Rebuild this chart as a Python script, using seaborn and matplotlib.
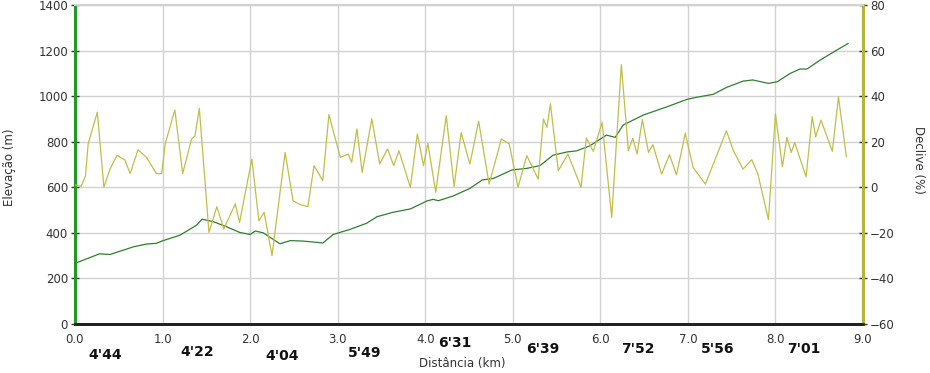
import matplotlib
matplotlib.use("Agg")
import matplotlib.pyplot as plt
import seaborn as sns
import pandas as pd

# Elevation profile (km, m)
elev_km = [0.00, 0.28, 0.40, 0.67, 0.82, 0.93, 1.00, 1.20, 1.39, 1.45, 1.58, 1.73, 1.88,
           2.00, 2.06, 2.15, 2.34, 2.46, 2.60, 2.80, 2.83, 2.88, 2.95, 3.14, 3.33, 3.45,
           3.63, 3.83, 4.02, 4.09, 4.15, 4.32, 4.51, 4.65, 4.78, 4.99, 5.16, 5.31, 5.46,
           5.62, 5.73, 5.88, 6.07, 6.17, 6.26, 6.49, 6.76, 6.99, 7.10, 7.29, 7.44, 7.63,
           7.74, 7.92, 8.02, 8.17, 8.28, 8.36, 8.51, 8.70, 8.83]
elev_m = [266, 308, 305, 339, 351, 354, 365, 390, 434, 460, 449, 427, 402,
          393, 408, 400, 352, 366, 364, 357, 355, 371, 393, 415, 442, 471,
          490, 505, 540, 547, 541, 562, 595, 632, 639, 676, 683, 695, 741,
          755, 760, 782, 829, 819, 873, 917, 953, 986, 995, 1008, 1038, 1066,
          1071, 1056, 1063, 1100, 1119, 1119, 1158, 1202, 1231]

# Gradient profile (km, %)
grad_km = [0.00, 0.07, 0.12, 0.15, 0.255, 0.33, 0.40, 0.48, 0.57, 0.63, 0.72, 0.82, 0.93,
           0.99, 1.03, 1.14, 1.23, 1.33, 1.37, 1.42, 1.53, 1.62, 1.70, 1.83, 1.88, 2.02,
           2.10, 2.16, 2.25, 2.40, 2.49, 2.57, 2.66, 2.73, 2.83, 2.90, 3.03, 3.12, 3.16,
           3.22, 3.28, 3.39, 3.48, 3.57, 3.64, 3.70, 3.83, 3.91, 3.98, 4.03, 4.12, 4.24,
           4.33, 4.41, 4.51, 4.61, 4.73, 4.87, 4.96, 5.06, 5.16, 5.29, 5.35, 5.39, 5.43,
           5.52, 5.63, 5.78, 5.84, 5.92, 6.02, 6.13, 6.24, 6.32, 6.37, 6.42, 6.48, 6.55,
           6.60, 6.70, 6.79, 6.87, 6.97, 7.06, 7.20, 7.44, 7.52, 7.63, 7.73, 7.80, 7.92,
           8.00, 8.08, 8.13, 8.18, 8.22, 8.35, 8.42, 8.46, 8.52, 8.65, 8.72, 8.81]
grad_pct = [1.0, 0.4, 5.0, 19.0, 33.0, 0.0, 8.0, 14.0, 12.0, 6.0, 16.5, 13.0, 6.0,
            6.0, 19.0, 34.0, 6.0, 21.0, 22.6, 34.6, -19.8, -8.5, -18.3, -7.3, -15.4, 12.4,
            -14.7, -11.0, -30.0, 15.3, -5.9, -7.6, -8.5, 9.5, 2.9, 31.9, 13.1, 14.6, 11.0,
            25.6, 6.5, 30.0, 10.2, 16.8, 9.5, 16.0, 0.0, 23.4, 9.5, 19.3, -2.2, 31.4,
            0.3, 24.0, 10.2, 29.0, 1.4, 21.2, 19.0, 0.0, 13.9, 3.6, 30.0, 26.3, 36.6,
            7.3, 14.6, 0.0, 21.6, 15.8, 28.5, -13.2, 53.8, 16.0, 21.5, 14.6, 29.7, 15.3,
            18.7, 5.8, 14.3, 5.5, 23.7, 8.7, 1.4, 24.8, 16.0, 8.0, 12.1, 5.8, -14.2,
            32.2, 9.0, 21.9, 15.3, 19.7, 4.6, 31.0, 22.2, 29.5, 15.8, 39.7, 13.4]

# Pace per km split
pace_labels = ["4'44", "4'22", "4'04", "5'49", "6'31", "6'39", "7'52", "5'56", "7'01"]
pace_km = [0.34, 1.39, 2.36, 3.31, 4.34, 5.34, 6.43, 7.34, 8.32]
pace_row = [355, 352, 356, 353, 343, 349, 349, 349, 349]  # pixel rows

x_ticks = [0, 1, 2, 3, 4, 5, 6, 7, 8, 9]
elev_ticks = [0, 200, 400, 600, 800, 1000, 1200, 1400]
grad_ticks = [-60, -40, -20, 0, 20, 40, 60, 80]

sns.set_style("white")
plt.rcParams['font.family'] = ['DejaVu Sans']

W, H = 930, 373
fig = plt.figure(figsize=(W / 100, H / 100), dpi=100)
ax = fig.add_axes([75 / W, (H - 324) / H, (863 - 75) / W, (324 - 5) / H])
ax2 = ax.twinx()

GREEN_LINE = "#2f7f2f"
YELLOW_LINE = "#bfbf48"
GREEN_SPINE = "#229a22"
YELLOW_SPINE = "#b4b43a"
GRID = "#d2d2d2"

df_e = pd.DataFrame({"km": elev_km, "m": elev_m})
df_g = pd.DataFrame({"km": grad_km, "pct": grad_pct})

sns.lineplot(data=df_e, x="km", y="m", ax=ax, color=GREEN_LINE, lw=0.9, zorder=3)
sns.lineplot(data=df_g, x="km", y="pct", ax=ax2, color=YELLOW_LINE, lw=0.9, zorder=3)

ax.set_xlim(0, 9)
ax.set_ylim(0, 1400)
ax2.set_ylim(-60, 80)
ax.set_xticks(x_ticks)
ax.set_xticklabels([f"{v:.1f}" for v in x_ticks])
ax.set_yticks(elev_ticks)
ax2.set_yticks(grad_ticks)
ax.set_xlabel("")
ax.set_ylabel("")
ax2.set_xlabel("")
ax2.set_ylabel("")

ax.grid(True, color=GRID, lw=1.0)
ax.set_axisbelow(True)

for a in (ax, ax2):
    a.spines["top"].set_color(GRID)
    a.spines["top"].set_linewidth(1.5)
    a.spines["bottom"].set_color("#222222")
    a.spines["bottom"].set_linewidth(2.0)
    a.spines["left"].set_color(GREEN_SPINE)
    a.spines["left"].set_linewidth(2.2)
    a.spines["right"].set_color(YELLOW_SPINE)
    a.spines["right"].set_linewidth(2.2)

ax.tick_params(axis="x", direction="inout", length=5, width=1.2, color="#222222",
               labelsize=8.5, labelcolor="#333333", pad=4)
ax.tick_params(axis="y", direction="inout", length=6, width=1, color="#333333",
               labelsize=8.5, labelcolor="#333333", pad=2)
ax2.tick_params(axis="y", direction="inout", length=6, width=1, color="#333333",
                labelsize=8.5, labelcolor="#333333", pad=2)

fig.text(10 / W, 1 - 167 / H, "Elevação (m)", rotation=90, ha="center", va="center",
         fontsize=8.5, color="#333333")
fig.text(918 / W, 1 - 160 / H, "Declive (%)", rotation=-90, ha="center", va="center",
         fontsize=8.5, color="#333333")
fig.text(462 / W, 1 - 363 / H, "Distância (km)", ha="center", va="center",
         fontsize=8.5, color="#333333")

for lab, km, row in zip(pace_labels, pace_km, pace_row):
    xf = ax.transData.transform((km, 0))[0] / fig.dpi / fig.get_figwidth()
    fig.text(xf, 1 - row / H, lab, ha="center", va="center", fontsize=10,
             fontweight="bold", color="#111111",
             family=["Liberation Sans Narrow", "DejaVu Sans"])

fig.savefig("out.png", dpi=100, facecolor="white")
